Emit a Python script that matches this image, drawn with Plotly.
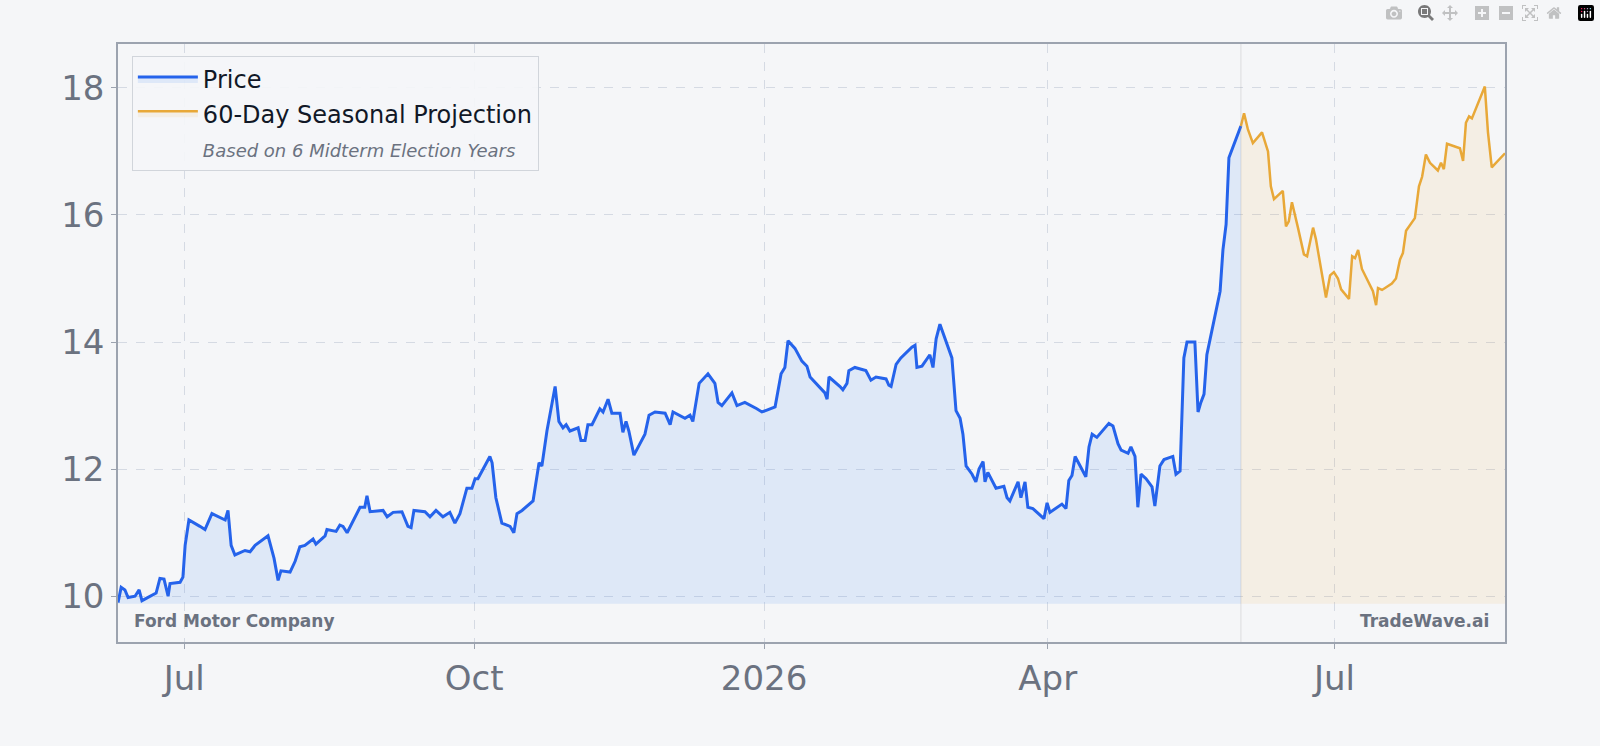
import pandas as pd
import plotly.graph_objects as go

start = pd.Timestamp("2025-06-10")

# days after start, close price
price_days = [0.0,1.0,2.2,3.2,5.4,6.7,7.6,10.2,12.1,13.3,14.6,15.9,16.5,19.7,20.6,21.3,22.5,26.0,27.6,29.8,31.7,34.0,34.9,35.9,37.1,40.3,41.9,43.5,47.6,49.5,50.8,51.7,54.6,56.2,57.7,59.3,61.9,62.8,65.7,66.3,69.2,70.4,71.4,72.7,76.8,78.3,79.0,80.0,84.1,85.4,87.3,90.1,92.0,93.0,93.9,97.4,99.0,100.9,103.1,105.3,106.9,108.5,110.7,112.3,113.3,114.2,118.0,118.7,119.9,121.8,124.4,125.6,126.6,128.2,131.7,133.6,134.5,136.1,138.7,139.9,141.2,142.2,143.4,146.0,146.9,148.2,149.1,150.4,152.9,153.9,155.5,156.7,159.3,160.2,161.2,162.1,163.7,167.2,168.5,170.4,173.6,175.2,176.1,179.9,181.5,182.4,184.4,187.2,189.4,190.4,191.6,194.8,196.4,198.9,202.7,204.3,205.9,208.5,210.4,211.6,212.6,214.8,217.0,218.6,219.6,224.3,225.0,225.6,229.1,230.0,231.3,231.9,233.8,237.3,238.9,240.5,243.7,244.6,245.3,246.9,248.4,251.9,252.9,253.5,255.1,257.6,258.6,259.6,260.8,264.6,265.9,267.2,268.1,269.1,271.0,272.2,273.2,274.5,275.1,276.0,278.6,280.2,281.1,282.1,283.0,285.6,286.5,287.8,288.7,290.3,293.8,294.8,295.7,299.5,300.8,301.7,302.7,303.7,307.1,308.1,309.1,310.6,314.4,315.7,317.3,318.3,320.5,321.4,322.7,323.6,324.6,326.2,328.1,329.0,330.6,331.9,334.7,335.7,337.0,338.2,339.2,341.7,342.7,343.6,344.6,345.5,349.7,350.6,351.6,352.5,356.3]
price_vals = [9.9,10.14,10.1,9.98,10.0,10.1,9.93,10.0,10.05,10.28,10.27,10.0,10.2,10.22,10.3,10.8,11.2,11.1,11.05,11.3,11.25,11.2,11.35,10.8,10.65,10.72,10.7,10.8,10.95,10.6,10.25,10.4,10.38,10.55,10.78,10.8,10.9,10.82,10.95,11.05,11.02,11.12,11.1,11.0,11.4,11.4,11.58,11.33,11.35,11.25,11.32,11.33,11.1,11.08,11.35,11.33,11.25,11.35,11.25,11.32,11.15,11.3,11.7,11.7,11.85,11.85,12.2,12.1,11.55,11.15,11.1,11.0,11.3,11.35,11.5,12.1,12.05,12.6,13.3,12.75,12.65,12.7,12.6,12.65,12.45,12.45,12.7,12.7,12.95,12.9,13.1,12.88,12.88,12.58,12.75,12.6,12.22,12.55,12.85,12.9,12.88,12.7,12.9,12.8,12.85,12.75,13.35,13.5,13.35,13.05,13.0,13.2,13.0,13.05,12.95,12.9,12.93,12.98,13.5,13.6,14.02,13.9,13.7,13.62,13.45,13.2,13.1,13.45,13.3,13.25,13.35,13.55,13.6,13.55,13.4,13.45,13.42,13.32,13.3,13.65,13.75,13.92,13.95,13.6,13.62,13.8,13.6,14.05,14.28,13.75,12.92,12.8,12.55,12.05,11.92,11.8,12.0,12.12,11.8,11.95,11.7,11.72,11.73,11.55,11.5,11.8,11.55,11.8,11.4,11.38,11.22,11.47,11.32,11.45,11.38,11.82,11.9,12.2,11.88,12.35,12.55,12.5,12.72,12.68,12.4,12.3,12.25,12.35,12.2,11.4,11.92,11.85,11.72,11.42,12.05,12.15,12.2,11.92,11.97,13.75,14.0,14.0,12.9,13.05,13.18,13.8,14.8,15.45,15.85,16.9,17.4]

proj_days = [356.3,357.3,358.5,360.1,363.0,364.9,365.8,366.8,369.6,370.6,371.5,372.5,374.4,376.3,377.3,379.2,380.1,383.3,384.6,385.8,387.1,388.1,390.6,391.6,392.5,393.5,394.7,397.3,398.2,399.2,399.8,401.1,404.2,405.5,406.8,407.7,408.7,411.5,412.8,413.8,415.0,416.3,418.8,419.8,420.7,421.7,425.8,426.8,427.7,428.7,429.6,433.7,434.7,435.9,440.1]
proj_vals = [17.4,17.6,17.35,17.13,17.3,17.0,16.45,16.25,16.38,15.82,15.9,16.2,15.8,15.38,15.35,15.8,15.62,14.7,15.05,15.1,15.0,14.83,14.68,15.35,15.32,15.45,15.15,14.88,14.8,14.58,14.85,14.82,14.92,15.0,15.3,15.4,15.75,15.95,16.45,16.6,16.95,16.82,16.7,16.82,16.72,17.12,17.05,16.85,17.45,17.55,17.52,18.02,17.3,16.75,16.97]

base = 9.88
tick_vals = ["2025-07-01", "2025-10-01", "2026-01-01", "2026-04-01", "2026-07-01"]
tick_text = ["Jul", "Oct", "2026", "Apr", "Jul"]

px_ = start + pd.to_timedelta(price_days, unit="D")
pj_ = start + pd.to_timedelta(proj_days, unit="D")

fig = go.Figure()
fig.add_trace(go.Scatter(x=px_, y=[base] * len(px_), mode="lines", line=dict(width=0),
                         showlegend=False, hoverinfo="skip"))
fig.add_trace(go.Scatter(x=px_, y=price_vals, mode="lines", name="Price",
                         line=dict(color="#2563eb", width=3), fill="tonexty",
                         fillcolor="rgba(59,130,246,0.12)"))
fig.add_trace(go.Scatter(x=pj_, y=[base] * len(pj_), mode="lines", line=dict(width=0),
                         showlegend=False, hoverinfo="skip"))
fig.add_trace(go.Scatter(x=pj_, y=proj_vals, mode="lines", name="60-Day Seasonal Projection",
                         line=dict(color="#e8a838", width=2.5), fill="tonexty",
                         fillcolor="rgba(232,168,56,0.10)"))
fig.add_trace(go.Scatter(x=[None], y=[None], mode="lines", line=dict(width=0, color="rgba(0,0,0,0)"),
                         name="<i><span style='font-size:18px;color:#6b7280'>Based on 6 Midterm Election Years</span></i>"))
fig.add_vline(x=pj_[0], line=dict(color="rgba(150,150,150,0.25)", width=1))

fig.update_layout(
    autosize=True,
    paper_bgcolor="#f5f6f8", plot_bgcolor="#f5f6f8",
    margin=dict(l=118, r=95, t=44, b=104),
    font=dict(family="DejaVu Sans", color="#6b7280"),
    legend=dict(x=0.01, y=0.98, xanchor="left", yanchor="top", traceorder="normal",
                bgcolor="rgba(245,246,248,0.9)", bordercolor="#d1d5db", borderwidth=1,
                font=dict(size=24, color="#111827"), itemwidth=60, tracegroupgap=4),
    xaxis=dict(range=[start, start + pd.Timedelta(days=440.1)], tickvals=tick_vals, ticktext=tick_text,
               tickfont=dict(size=34), showgrid=True, gridcolor="#d5dae3", griddash="dash",
               showline=True, mirror=True, linecolor="#9ca3af", linewidth=1.5, ticks="outside",
               tickcolor="#9ca3af", zeroline=False),
    yaxis=dict(range=[9.28, 18.69], tickvals=[10, 12, 14, 16, 18], tickfont=dict(size=34),
               showgrid=True, gridcolor="#d5dae3", griddash="dash",
               showline=True, mirror=True, linecolor="#9ca3af", linewidth=1.5, ticks="outside",
               tickcolor="#9ca3af", zeroline=False),
    annotations=[
        dict(text="<b>Ford Motor Company</b>", xref="paper", yref="paper", x=0.01, y=0.015,
             xanchor="left", yanchor="bottom", showarrow=False, font=dict(size=17, color="#6b7280")),
        dict(text="<b>TradeWave.ai</b>", xref="paper", yref="paper", x=0.99, y=0.015,
             xanchor="right", yanchor="bottom", showarrow=False, font=dict(size=17, color="#6b7280")),
    ],
)
fig.write_html("out.html", default_width="100vw", default_height="100vh",
               post_script="document.body.style.margin='0';document.body.style.background='#f5f6f8';"
                           "window.dispatchEvent(new Event('resize'));")
